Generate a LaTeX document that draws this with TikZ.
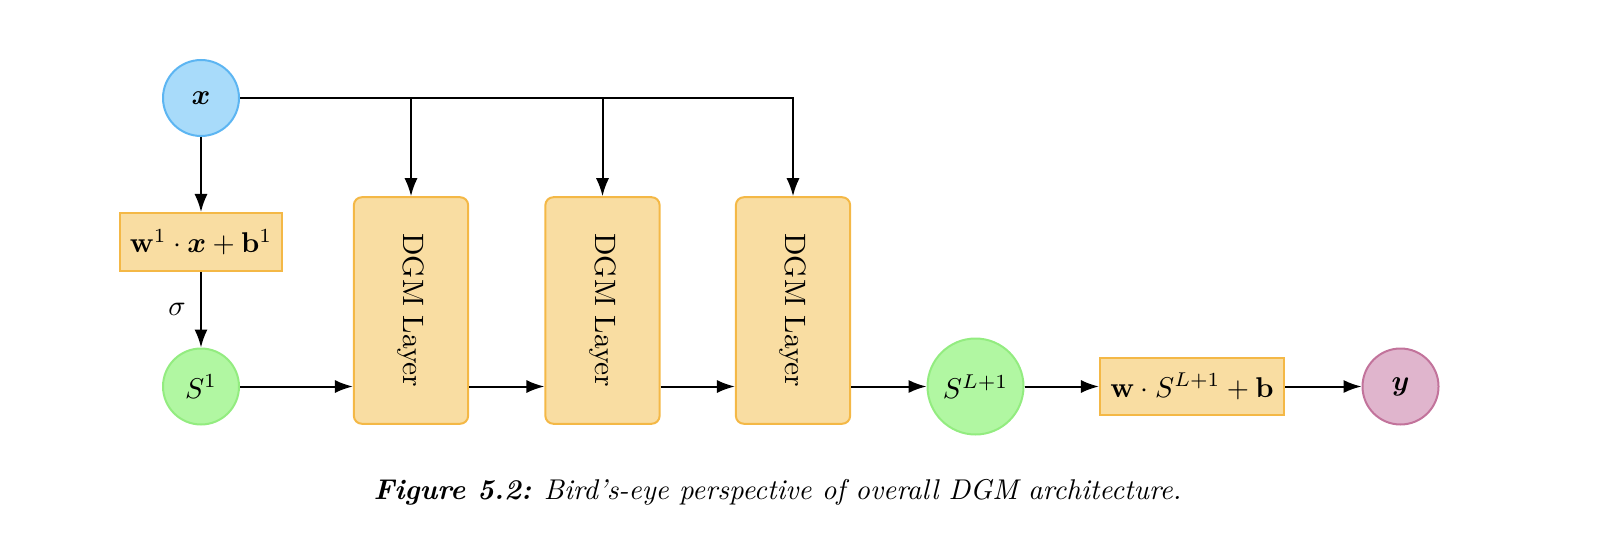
\documentclass[tikz,border=0pt]{standalone}
\usepackage{bm}
\usetikzlibrary{arrows.meta}
\definecolor{xfill}{HTML}{A8DBFA}
\definecolor{xdraw}{HTML}{5CB5F2}
\definecolor{sfill}{HTML}{B1F7A2}
\definecolor{sdraw}{HTML}{93EC80}
\definecolor{bfill}{HTML}{F9DDA2}
\definecolor{bdraw}{HTML}{F4B846}
\definecolor{yfill}{HTML}{E0B5CD}
\definecolor{ydraw}{HTML}{C2739B}
\begin{document}
\begin{tikzpicture}[x=0.35pt,y=-0.35pt,
  every node/.style={inner sep=0pt},
  conn/.style={line width=0.7pt,-{Latex[length=6.3pt,width=4.6pt]}},
  xnode/.style={circle,fill=xfill,draw=xdraw,line width=0.7pt,minimum size=26.6pt},
  snode/.style={circle,fill=sfill,draw=sdraw,line width=0.7pt,minimum size=26.6pt},
  ynode/.style={circle,fill=yfill,draw=ydraw,line width=0.7pt,minimum size=26.6pt},
  opbox/.style={rectangle,fill=bfill,draw=bdraw,line width=0.7pt},
  layerbox/.style={rectangle,rounded corners=2.8pt,fill=bfill,draw=bdraw,line width=0.7pt,minimum width=40pt,minimum height=79.3pt},
  layertext/.style={rotate=-90,scale=1.03}
]
\useasboundingbox (0,0) rectangle (1602,552);
\node[xnode] (x) at (201,98) {$\bm{x}$};
\node[opbox,minimum width=57pt,minimum height=20.3pt] (w1) at (201,242) {$\mathbf{w}^1\cdot\bm{x}+\mathbf{b}^1$};
\node[snode] (s1) at (201,386.5) {$S^1$};
\node[layerbox] (d1) at (411,310.5) {};
\node[layerbox] (d2) at (602.5,310.5) {};
\node[layerbox] (d3) at (793,310.5) {};
\node[layertext] (t1) at (d1.center) {DGM Layer};
\node[layertext] (t2) at (d2.center) {DGM Layer};
\node[layertext] (t3) at (d3.center) {DGM Layer};
\node[snode,minimum size=33.6pt] (sl) at (975.5,386.5) {$S^{L+1}$};
\node[opbox,minimum width=64.5pt,minimum height=20pt] (wb) at (1192,386.5) {$\mathbf{w}\cdot S^{L+1}+\mathbf{b}$};
\node[ynode] (y) at (1400.5,386.5) {$\bm{y}$};
\node (cap) at (777.5,492) {\textbf{\textit{Figure 5.2:}} \textit{Bird's-eye perspective of overall DGM architecture.}};

\draw[conn] (x) -- (w1);
\draw[conn] (w1) -- node[left,xshift=-5pt] {$\sigma$} (s1);
\draw[conn] (s1.east) -- (s1.east -| d1.west);
\draw[conn] (s1.east -| d1.east) -- (s1.east -| d2.west);
\draw[conn] (s1.east -| d2.east) -- (s1.east -| d3.west);
\draw[conn] (s1.east -| d3.east) -- (sl);
\draw[conn] (sl) -- (wb);
\draw[conn] (wb) -- (y);
\draw[conn] (x.east) -| (d3.north);
\draw[conn] (x.east -| d1.north) -- (d1.north);
\draw[conn] (x.east -| d2.north) -- (d2.north);
\end{tikzpicture}
\end{document}
